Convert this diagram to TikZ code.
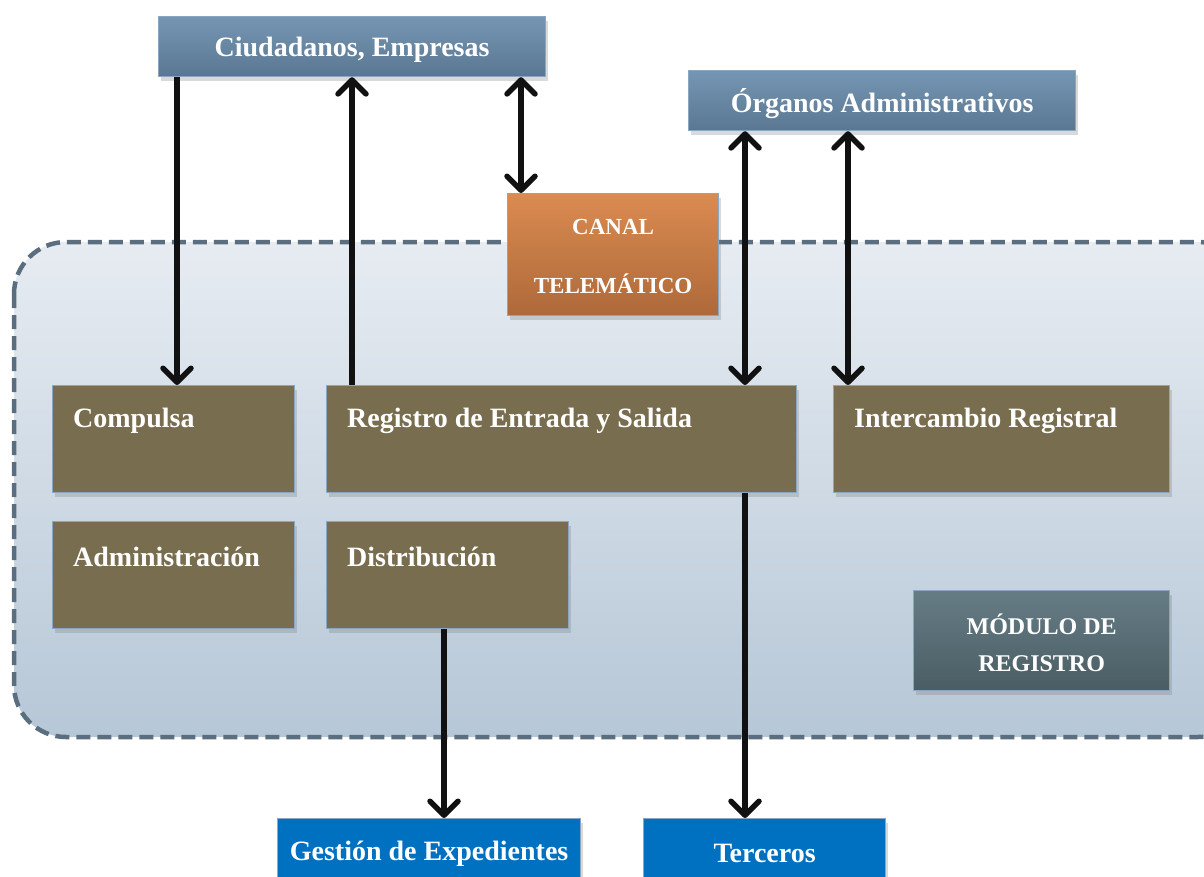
\documentclass[tikz,border=0pt]{standalone}
\usepackage{fontspec}
\setmainfont{Liberation Serif}
\usetikzlibrary{arrows.meta,shadows,calc}

\definecolor{steelTop}{HTML}{7596B3}
\definecolor{steelBot}{HTML}{5A7792}
\definecolor{orangeTop}{HTML}{DA8B51}
\definecolor{orangeBot}{HTML}{AE6939}
\definecolor{zoneTop}{HTML}{E7ECF2}
\definecolor{zoneBot}{HTML}{B6C7D7}
\definecolor{zoneLine}{HTML}{5A6E80}
\definecolor{modTop}{HTML}{667C84}
\definecolor{modBot}{HTML}{4A5D65}
\definecolor{brownBox}{HTML}{786D4E}
\definecolor{blueBox}{HTML}{0070C0}
\definecolor{boxEdge}{HTML}{8AA6C0}
\definecolor{arrowInk}{HTML}{111111}

\tikzset{
  boxbase/.style={draw=boxEdge, line width=1.2pt, inner sep=0pt, anchor=north west,
    drop shadow={opacity=0.3, shadow xshift=2pt, shadow yshift=-4pt}},
  steelbox/.style={boxbase, top color=steelTop, bottom color=steelBot},
  orangebox/.style={boxbase, top color=orangeTop, bottom color=orangeBot},
  modbox/.style={boxbase, top color=modTop, bottom color=modBot},
  brownbox/.style={boxbase, fill=brownBox},
  bluebox/.style={boxbase, fill=blueBox},
  txt/.style={text=white, font=\bfseries\fontsize{28}{32}\selectfont, inner sep=0pt},
  captxt/.style={text=white, font=\bfseries\fontsize{24}{37}\selectfont, inner sep=0pt, align=center},
  tipbarb/.tip={Straight Barb[length=14pt,width=28pt,round]},
  arr/.style={draw=arrowInk, line width=5.5pt, -tipbarb},
  dblarr/.style={draw=arrowInk, line width=5.5pt, tipbarb-tipbarb},
}

\begin{document}
\begin{tikzpicture}[x=1pt,y=-1pt]
  \useasboundingbox (0,0) rectangle (1204,876);
  \clip (0,0) rectangle (1204,876);

  % registry module zone
  \draw[zoneLine, line width=4.5pt, dash pattern=on 14pt off 7pt,
        rounded corners=52pt, top color=zoneTop, bottom color=zoneBot]
    (14,242) rectangle (1250,737);

  % external boxes
  \node[steelbox, minimum width=387pt, minimum height=60pt] (ciud) at (158,16) {};
  \node[txt] at ([yshift=-3pt]ciud.center) {Ciudadanos, Empresas};

  \node[steelbox, minimum width=387pt, minimum height=60pt] (org) at (688,70) {};
  \node[txt] at ([yshift=-3pt]org.center) {Órganos Administrativos};

  \node[orangebox, minimum width=211pt, minimum height=122pt] (canal) at (507,193) {};
  \node[captxt, font=\bfseries\fontsize{23}{59}\selectfont] at ([yshift=-2pt]canal.center) {CANAL\\TELEMÁTICO};

  % inner boxes
  \node[brownbox, minimum width=242pt, minimum height=107pt] (comp) at (52,385) {};
  \node[txt, anchor=west] at ([xshift=21pt,yshift=-36pt]comp.north west) {Compulsa};

  \node[brownbox, minimum width=470pt, minimum height=107pt] (reg) at (326,385) {};
  \node[txt, anchor=west] at ([xshift=21pt,yshift=-36pt]reg.north west) {Registro de Entrada y Salida};

  \node[brownbox, minimum width=336pt, minimum height=107pt] (inter) at (833,385) {};
  \node[txt, anchor=west] at ([xshift=21pt,yshift=-36pt]inter.north west) {Intercambio Registral};

  \node[brownbox, minimum width=242pt, minimum height=107pt] (adm) at (52,521) {};
  \node[txt, anchor=west] at ([xshift=21pt,yshift=-36pt]adm.north west) {Administración};

  \node[brownbox, minimum width=242pt, minimum height=107pt] (dist) at (326,521) {};
  \node[txt, anchor=west] at ([xshift=21pt,yshift=-36pt]dist.north west) {Distribución};

  \node[modbox, minimum width=256pt, minimum height=100pt] (mod) at (913,590) {};
  \node[captxt] at ([yshift=-2pt]mod.center) {MÓDULO DE\\REGISTRO};

  % destination boxes
  \node[bluebox, minimum width=303pt, minimum height=64pt] (gest) at (277,818) {};
  \node[txt] at ([yshift=-3pt]gest.center) {Gestión de Expedientes};

  \node[bluebox, minimum width=242pt, minimum height=64pt] (terc) at (643,818) {};
  \node[txt] at ([yshift=-3pt]terc.center) {Terceros};

  % connector columns
  \coordinate (cA) at (177,0);
  \coordinate (cB) at (352,0);
  \coordinate (cC) at (521,0);
  \coordinate (cD) at (745,0);
  \coordinate (cE) at (848,0);
  \coordinate (cF) at (444,0);

  \draw[arr] (ciud.south -| cA) -- (comp.north -| cA);
  \draw[arr] (reg.north -| cB) -- (ciud.south -| cB);
  \draw[dblarr] (ciud.south -| cC) -- (canal.north -| cC);
  \draw[dblarr] (org.south -| cD) -- (reg.north -| cD);
  \draw[dblarr] (org.south -| cE) -- (inter.north -| cE);
  \draw[arr] (dist.south -| cF) -- (gest.north -| cF);
  \draw[arr] (reg.south -| cD) -- (terc.north -| cD);
\end{tikzpicture}
\end{document}
